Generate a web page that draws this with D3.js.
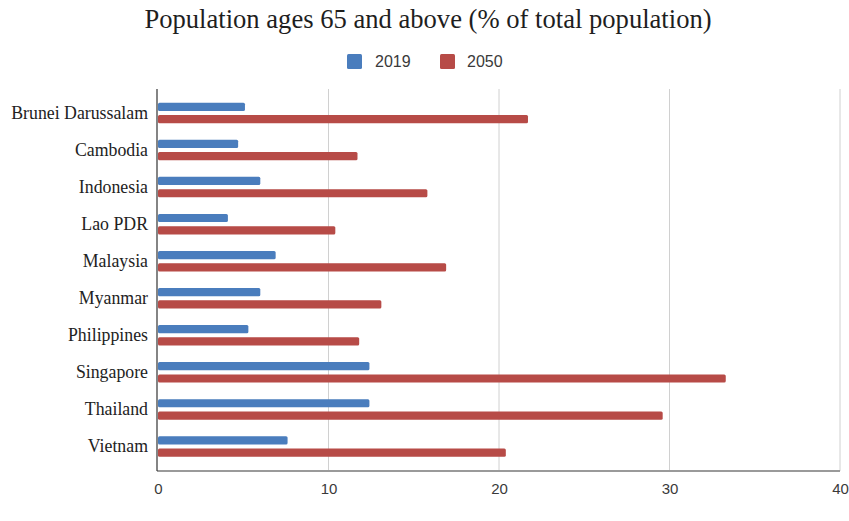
<!DOCTYPE html>
<html>
<head>
<meta charset="utf-8">
<script src="https://cdn.jsdelivr.net/npm/d3@7"></script>
<style>
  html, body { margin: 0; padding: 0; background: #fff; }
  svg { display: block; }
</style>
</head>
<body>
<svg id="chart" width="849" height="521"></svg>
<script>
const categories = ["Brunei Darussalam", "Cambodia", "Indonesia", "Lao PDR", "Malaysia",
                    "Myanmar", "Philippines", "Singapore", "Thailand", "Vietnam"];
const values2019 = [5.1, 4.7, 6.0, 4.1, 6.9, 6.0, 5.3, 12.4, 12.4, 7.6];
const values2050 = [21.7, 11.7, 15.8, 10.4, 16.9, 13.1, 11.8, 33.3, 29.6, 20.4];
const seriesNames = ["2019", "2050"];
const xTicks = [0, 10, 20, 30, 40];
const title = "Population ages 65 and above (% of total population)";

const colors = {"2019": "#4a7dbd", "2050": "#b74b47"};

const svg = d3.select("#chart");
const left = 157, right = 840, gridTop = 89, gridBottom = 471;

const x = d3.scaleLinear().domain([0, 40]).range([158, 840]);
const y = d3.scaleBand().domain(categories).range([94.5, 465]).padding(0);

// title
svg.append("text")
  .attr("x", 428).attr("y", 28)
  .attr("text-anchor", "middle")
  .attr("font-family", "'Liberation Serif', 'Times New Roman', serif")
  .attr("font-size", 26.6)
  .attr("fill", "#1e1e1e")
  .text(title);

// legend
const legend = svg.append("g");
const legendItems = [{name: "2019", sx: 347, tx: 375}, {name: "2050", sx: 440, tx: 467}];
legendItems.forEach(d => {
  legend.append("rect").attr("x", d.sx).attr("y", 54).attr("width", 15).attr("height", 15)
    .attr("rx", 1.5).attr("fill", colors[d.name]);
  legend.append("text").attr("x", d.tx).attr("y", 67)
    .attr("font-family", "'Liberation Sans', Arial, sans-serif")
    .attr("font-size", 16).attr("fill", "#3a3a3a").text(d.name);
});

// gridlines
svg.append("g").selectAll("line").data(xTicks.filter(t => t > 0)).join("line")
  .attr("x1", d => x(d)).attr("x2", d => x(d))
  .attr("y1", gridTop).attr("y2", gridBottom)
  .attr("stroke", "#d0d0d0").attr("stroke-width", 1);

// bars
const barH = 8.2;
const rows = categories.map((c, i) => ({c, v: [values2019[i], values2050[i]]}));
const g = svg.append("g");
rows.forEach(r => {
  const cy = y(r.c) + y.bandwidth() / 2;
  g.append("rect").attr("x", x(0)).attr("y", cy - 10.3)
    .attr("width", x(r.v[0]) - x(0)).attr("height", barH)
    .attr("rx", 1.5).attr("fill", colors["2019"]);
  g.append("rect").attr("x", x(0)).attr("y", cy + 2)
    .attr("width", x(r.v[1]) - x(0)).attr("height", barH)
    .attr("rx", 1.5).attr("fill", colors["2050"]);
});

// x axis
const xAxis = d3.axisBottom(x).tickValues(xTicks).tickSize(0).tickPadding(12);
const xg = svg.append("g").attr("transform", `translate(0,${gridBottom})`).call(xAxis);
xg.select(".domain").remove();
xg.selectAll("text")
  .attr("font-family", "'Liberation Sans', Arial, sans-serif")
  .attr("font-size", 15).attr("fill", "#3a3a3a");
svg.append("line").attr("x1", left).attr("x2", right).attr("y1", gridBottom).attr("y2", gridBottom)
  .attr("stroke", "#9a9a9a").attr("stroke-width", 2);

// y axis
const yAxis = d3.axisLeft(y).tickSize(0).tickPadding(9);
const yg = svg.append("g").attr("transform", `translate(${left},0)`).call(yAxis);
yg.select(".domain").remove();
yg.selectAll("text")
  .attr("font-family", "'Liberation Serif', 'Times New Roman', serif")
  .attr("font-size", 17.8).attr("fill", "#222");
svg.append("line").attr("x1", left).attr("x2", left).attr("y1", gridTop).attr("y2", gridBottom)
  .attr("stroke", "#333").attr("stroke-width", 1.2);
</script>
</body>
</html>
